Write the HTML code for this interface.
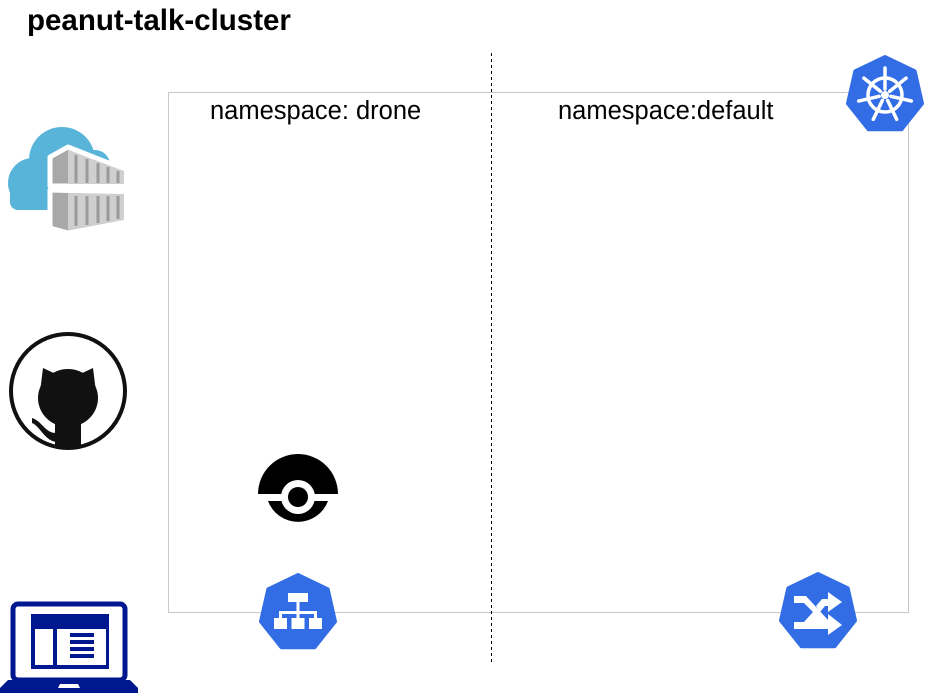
<!DOCTYPE html>
<html><head><meta charset="utf-8"><style>
html,body{margin:0;padding:0;background:#fff;}
svg{display:block;}
text{font-family:"Liberation Sans",Arial,sans-serif;}
</style></head><body>
<svg width="930" height="693" viewBox="0 0 930 693" xmlns="http://www.w3.org/2000/svg">
<defs>
<polygon id="hep" points="0,-38 29.7,-23.7 37,8.5 16.5,34.2 -16.5,34.2 -37,8.5 -29.7,-23.7" stroke-linejoin="round"/>
</defs>
<text x="27" y="30" font-size="29.5" font-weight="bold" fill="#000">peanut-talk-cluster</text>
<rect x="168.5" y="92.5" width="740" height="520" fill="none" stroke="#c8c8c8" stroke-width="1"/>
<line x1="491.5" y1="53" x2="491.5" y2="662" stroke="#000" stroke-width="1" stroke-dasharray="3,3"/>
<text x="210" y="119" font-size="25.5">namespace: drone</text>
<text x="558" y="119" font-size="25.5">namespace:default</text>

<!-- k8s -->
<g transform="translate(885,95)">
<use href="#hep" fill="#326de6" stroke="#326de6" stroke-width="4"/>
<g stroke="#fff" stroke-width="3.5" fill="none" stroke-linecap="round">
<circle r="17"/>
<g id="sp"><line x1="0" y1="-6" x2="0" y2="-27"/></g>
<use href="#sp" transform="rotate(51.4)"/><use href="#sp" transform="rotate(102.8)"/><use href="#sp" transform="rotate(154.3)"/><use href="#sp" transform="rotate(205.7)"/><use href="#sp" transform="rotate(257.1)"/><use href="#sp" transform="rotate(308.6)"/>
</g>
<circle r="4" fill="#fff"/>
</g>

<!-- Azure container registry -->
<g>
<g fill="#59b4d9">
<circle cx="33" cy="183" r="25"/>
<circle cx="62" cy="160" r="33"/>
<circle cx="95" cy="165" r="15"/>
<rect x="10" y="180" width="80" height="30" rx="8"/>
</g>
<g stroke="#fff" stroke-width="5" stroke-linejoin="round">
<polygon points="50,157 68,147 126,170 126,186 50,186" fill="#a8a8a8"/>
<polygon points="50,190 126,192 126,222 68,233 50,228" fill="#a8a8a8"/>
</g>
<polygon points="68,150 124,171 124,184 68,184" fill="#cfcfcf"/>
<polygon points="68,193 124,194 124,220 68,230" fill="#cfcfcf"/>
<g stroke="#9a9a9a" stroke-width="3">
<line x1="76" y1="155" x2="76" y2="183"/><line x1="87" y1="159" x2="87" y2="183"/><line x1="98" y1="163" x2="98" y2="183"/><line x1="108" y1="167" x2="108" y2="183"/><line x1="118" y1="171" x2="118" y2="183"/>
<line x1="76" y1="196" x2="76" y2="226"/><line x1="87" y1="196" x2="87" y2="225"/><line x1="98" y1="196" x2="98" y2="223"/><line x1="108" y1="196" x2="108" y2="221"/><line x1="118" y1="196" x2="118" y2="219"/>
</g>
</g>

<!-- GitHub -->
<circle cx="68" cy="391" r="57" fill="none" stroke="#111" stroke-width="4"/>
<g fill="#111">
<ellipse cx="68" cy="398" rx="30" ry="29"/>
<polygon points="40,392 43,368 60,376"/>
<polygon points="96,392 93,368 76,376"/>
<rect x="55" y="412" width="26" height="35"/>
<path d="M56,433 C45,433 42,421 32,418 L32,423 C40,426 44,440 56,442 Z"/>
</g>

<!-- Drone -->
<g>
<path d="M258,494 A40,40 0 0 1 338,494 Z" fill="#000"/>
<path d="M268,501 L328,501 A32,32 0 0 1 268,501 Z" fill="#000"/>
<circle cx="298" cy="497" r="17" fill="#fff"/>
<circle cx="298" cy="497" r="10" fill="#000"/>
</g>

<!-- service (blue tree) -->
<g transform="translate(298,613)">
<use href="#hep" fill="#326de6" stroke="#326de6" stroke-width="4"/>
<g fill="#fff">
<rect x="-10" y="-20" width="20" height="9"/>
<rect x="-1.5" y="-11" width="3" height="10"/>
<rect x="-18" y="-2" width="36" height="3"/>
<rect x="-19" y="-2" width="3" height="8"/><rect x="-1.5" y="-2" width="3" height="8"/><rect x="16" y="-2" width="3" height="8"/>
<rect x="-24" y="5" width="13" height="11"/><rect x="-6.5" y="5" width="13" height="11"/><rect x="11" y="5" width="13" height="11"/>
</g>
</g>

<!-- shuffle -->
<g transform="translate(818,612)">
<use href="#hep" fill="#326de6" stroke="#326de6" stroke-width="4"/>
<g fill="#fff">
<polygon points="-24,-16 -12,-16 10,8 10,2 24,13 10,23 10,17 -8,17 -24,17 -24,10 -14,10 -5,0 -14,-9 -24,-9"/>
<polygon points="-2,-6 4,-13 10,-13 10,-20 24,-10 10,0 10,-6 7,-6 2,0"/>
</g>
</g>

<!-- laptop -->
<g>
<rect x="13" y="604" width="112" height="76" rx="5" fill="none" stroke="#00188f" stroke-width="5"/>
<rect x="31" y="614" width="78" height="55" fill="#00188f"/>
<rect x="35" y="629" width="18" height="36" fill="#fff"/>
<rect x="57" y="629" width="49" height="36" fill="#fff"/>
<g fill="#00188f"><rect x="70" y="633" width="24" height="4"/><rect x="70" y="640" width="24" height="4"/><rect x="70" y="647" width="24" height="4"/><rect x="70" y="654" width="24" height="4"/></g>
<path d="M8,680 L130,680 L138,688 L138,693 L0,693 L0,688 Z" fill="#00188f"/>
<path d="M58,688 L80,688 L78,684 L60,684 Z" fill="#fff"/>
</g>
</svg>
</body></html>
